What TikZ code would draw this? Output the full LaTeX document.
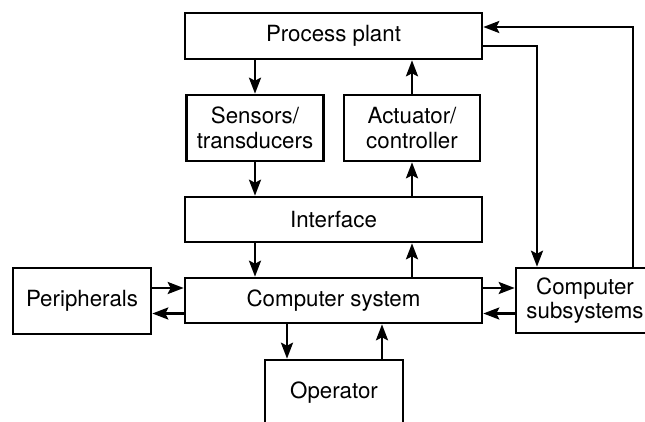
\documentclass[tikz,border=0pt]{standalone}
\usepackage{fontspec}
\setmainfont{TeX Gyre Heros}
\usetikzlibrary{arrows.meta}
\begin{document}
\begin{tikzpicture}[x=1pt,y=-1pt,
  blk/.style={draw,line width=2.6pt,rectangle,align=center,inner sep=0pt,
    font=\fontsize{22.3}{24.5}\selectfont},
  arr/.style={line width=2.6pt,-{Stealth[length=16pt,width=12pt,inset=3pt]}}]
\useasboundingbox (0,0) rectangle (645,421);
\clip (0,0) rectangle (645,421);
% blocks
\node[blk,minimum width=297pt,minimum height=46pt] (pp)   at (333.5,36)  {Process plant};
\node[blk,minimum width=137pt,minimum height=66pt] (sens) at (255,128)   {Sensors/\\transducers};
\node[blk,minimum width=136pt,minimum height=66pt] (act)  at (412,128)   {Actuator/\\controller};
\node[blk,minimum width=297pt,minimum height=45pt] (intf) at (333.5,219.5) {Interface};
\node[blk,minimum width=297pt,minimum height=45pt] (cs)   at (333.5,300.5) {Computer system};
\node[blk,minimum width=138pt,minimum height=66pt] (per)  at (82,301)    {Peripherals};
\node[blk,minimum width=138pt,minimum height=65pt] (sub)  at (585,300.5) {Computer\\subsystems};
\node[blk,minimum width=138pt,minimum height=66pt] (op)   at (334,393)   {Operator};
% guide positions for the vertical and horizontal links
\coordinate (xa) at (255,0);
\coordinate (xb) at (412,0);
\coordinate (xc) at (287,0);
\coordinate (xd) at (382,0);
\coordinate (xe) at (537,0);
\coordinate (xf) at (633,0);
\coordinate (ya) at (0,288);
\coordinate (yb) at (0,313.5);
\coordinate (yc) at (0,46);
\coordinate (yd) at (0,27);
% vertical chain
\draw[arr] (pp.south -| xa) -- (sens.north -| xa);
\draw[arr] (act.north -| xb) -- (pp.south -| xb);
\draw[arr] (sens.south -| xa) -- (intf.north -| xa);
\draw[arr] (intf.north -| xb) -- (act.south -| xb);
\draw[arr] (intf.south -| xa) -- (cs.north -| xa);
\draw[arr] (cs.north -| xb) -- (intf.south -| xb);
\draw[arr] (cs.south -| xc) -- (op.north -| xc);
\draw[arr] (op.north -| xd) -- (cs.south -| xd);
% side links
\draw[arr] (per.east |- ya) -- (cs.west |- ya);
\draw[arr] (cs.west |- yb) -- (per.east |- yb);
\draw[arr] (cs.east |- ya) -- (sub.west |- ya);
\draw[arr] (sub.west |- yb) -- (cs.east |- yb);
% feedback loops on the right
\draw[arr] (pp.east |- yc) -- (xe |- yc) -- (sub.north -| xe);
\draw[arr] (sub.north -| xf) -- (xf |- yd) -- (pp.east |- yd);
\end{tikzpicture}
\end{document}
